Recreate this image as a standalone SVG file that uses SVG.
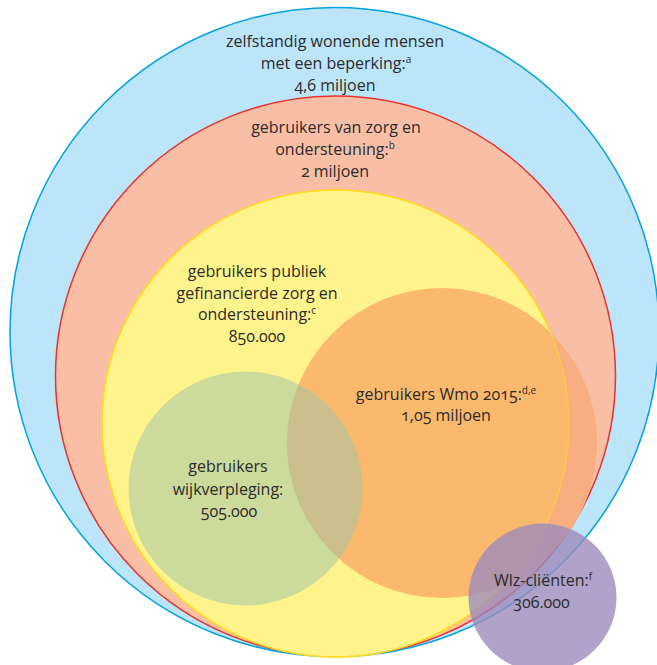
<svg xmlns="http://www.w3.org/2000/svg" width="657" height="665" viewBox="0 0 657 665">
  <style>
    text { font-family: "Open Sans", "Noto Sans", "Liberation Sans", sans-serif; font-size: 16px; fill: #2b2b2b; text-anchor: middle; font-variant-numeric: oldstyle-nums; }
    .sup { font-size: 10px; }
  </style>
  <defs>
    <mask id="outsideYellow" maskUnits="userSpaceOnUse" x="0" y="0" width="657" height="665">
      <rect x="0" y="0" width="657" height="665" fill="#fff"/>
      <circle cx="335.5" cy="423.5" r="233.5" fill="#000"/>
    </mask>
  </defs>
  <rect width="657" height="665" fill="#ffffff"/>

  <g id="zelfstandig">
    <circle cx="334.5" cy="332" r="324.5" fill="#BCE5F9" stroke="#00A3E0" stroke-width="1.5"/>
  </g>
  <g id="zorg-ondersteuning">
    <circle cx="335.5" cy="376" r="280" fill="#F9BFA6" stroke="#E8322B" stroke-width="1.5"/>
  </g>
  <g id="publiek">
    <circle cx="335.5" cy="423.5" r="233.5" fill="#FFF48C" stroke="#FFE500" stroke-width="1.5"/>
  </g>
  <g id="wmo">
    <circle cx="442" cy="443" r="155" fill="#FBB96E"/>
    <circle cx="442" cy="443" r="155" fill="#F8AE80" mask="url(#outsideYellow)"/>
    <circle cx="335.5" cy="423.5" r="233.5" fill="none" stroke="#FFD23C" stroke-width="1.2" opacity="0.8"/>
  </g>
  <g id="wijkverpleging">
    <circle cx="245.5" cy="488.5" r="117" fill="#A2C4A8" fill-opacity="0.55"/>
  </g>
  <g id="wlz">
    <circle cx="542.5" cy="597.5" r="74" fill="#9C8BBA" fill-opacity="0.8"/>
  </g>

  <g id="labels">
    <text x="335" y="47">zelfstandig wonende mensen</text>
    <text x="336" y="69">met een beperking:<tspan class="sup" dy="-6">a</tspan></text>
    <text x="335" y="91">4,6 miljoen</text>

    <text x="336" y="133">gebruikers van zorg en</text>
    <text x="335" y="155">ondersteuning:<tspan class="sup" dy="-6">b</tspan></text>
    <text x="335" y="177">2 miljoen</text>

    <text x="257" y="277">gebruikers publiek</text>
    <text x="257" y="298.5">gefinancierde zorg en</text>
    <text x="257" y="320">ondersteuning:<tspan class="sup" dy="-6">c</tspan></text>
    <text x="257" y="341.5">850.000</text>

    <text x="446" y="399.5">gebruikers Wmo 2015:<tspan class="sup" dy="-6">d,e</tspan></text>
    <text x="446" y="421">1,05 miljoen</text>

    <text x="228" y="472">gebruikers</text>
    <text x="228" y="494.5">wijkverpleging:</text>
    <text x="229" y="517">505.000</text>

    <text x="543" y="585.5">Wlz-cliënten:<tspan class="sup" dy="-6">f</tspan></text>
    <text x="541.5" y="607.5">306.000</text>
  </g>
</svg>
